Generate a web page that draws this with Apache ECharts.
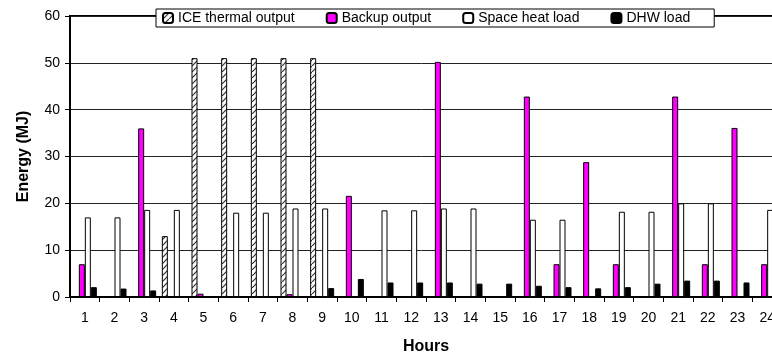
<!DOCTYPE html>
<html>
<head>
<meta charset="utf-8">
<script src="https://cdn.jsdelivr.net/npm/echarts@6/dist/echarts.min.js"></script>
<style>
  html, body { margin: 0; padding: 0; background: #fff; }
  #chart { width: 772px; height: 356px; }
</style>
</head>
<body>
<div id="chart"></div>
<script>
const hours = ['1', '2', '3', '4', '5', '6', '7', '8', '9', '10', '11', '12',
  '13', '14', '15', '16', '17', '18', '19', '20', '21', '22', '23', '24']
const iceOutput = [0, 0, 0, 13, 51, 51, 51, 51, 51, 0, 0, 0, 0, 0, 0, 0, 0, 0, 0, 0, 0, 0, 0, 0]
const backupOutput = [7, 0, 36, 0, 0.7, 0, 0, 0.6, 0, 21.6, 0, 0, 50.2, 0, 0, 42.8, 7, 28.8, 7, 0, 42.8, 7, 36.1, 7]
const spaceHeat = [17, 17, 18.6, 18.6, 0, 18, 18, 18.9, 18.9, 0, 18.5, 18.5, 18.9, 18.9, 0, 16.5, 16.5, 0, 18.2, 18.2, 20, 20, 0, 18.6]
const dhwLoad = [2.1, 1.8, 1.4, 0, 0, 0, 0, 0, 1.9, 3.85, 3.1, 3.1, 3.1, 2.85, 2.85, 2.4, 2.1, 1.85, 2.1, 2.85, 3.5, 3.5, 3.1, 2.5]

// hatch pattern for ICE bars
function hatch() {
  const c = document.createElement('canvas')
  c.width = 6
  c.height = 6
  const ctx = c.getContext('2d')
  ctx.fillStyle = '#fff'
  ctx.fillRect(0, 0, 6, 6)
  ctx.strokeStyle = '#333'
  ctx.lineWidth = 1.2
  ctx.beginPath()
  ctx.moveTo(-1, 7)
  ctx.lineTo(7, -1)
  ctx.stroke()
  return c
}

const font = 'Liberation Sans, Arial, sans-serif'

function bar(name, data, color) {
  return {
    name,
    data,
    type: 'bar',
    barWidth: 6,
    barGap: '0%',
    itemStyle: {
      color,
      borderColor: '#000',
      borderWidth: 1
    },
    emphasis: { disabled: true }
  }
}

const chart = echarts.init(document.getElementById('chart'))
chart.setOption({
  animation: false,
  backgroundColor: '#fff',
  grid: {
    left: 70,
    top: 16,
    width: 712,
    height: 281,
    outerBoundsMode: 'none',
    containLabel: false,
    show: true,
    borderColor: '#000',
    borderWidth: 2,
    backgroundColor: '#fff'
  },
  legend: {
    left: 156,
    top: 9,
    padding: [2, 24, 2, 6],
    itemGap: 31,
    itemWidth: 10,
    itemHeight: 10,
    backgroundColor: '#fff',
    borderColor: '#000',
    borderWidth: 1,
    textStyle: { fontFamily: font, fontSize: 14, color: '#000' },
    data: ['ICE thermal output', 'Backup output', 'Space heat load', 'DHW load']
  },
  xAxis: {
    type: 'category',
    data: hours,
    name: 'Hours',
    nameLocation: 'middle',
    nameGap: 42,
    nameTextStyle: { fontFamily: font, fontSize: 16, fontWeight: 'bold', color: '#000' },
    axisLine: { lineStyle: { color: '#000', width: 1.5 } },
    axisTick: { show: true, length: 5, lineStyle: { color: '#000' } },
    axisLabel: { fontFamily: font, fontSize: 14, color: '#000', margin: 14 },
    splitLine: { show: false }
  },
  yAxis: {
    type: 'value',
    min: 0,
    max: 60,
    interval: 10,
    name: 'Energy (MJ)',
    nameLocation: 'middle',
    nameGap: 38,
    nameTextStyle: { fontFamily: font, fontSize: 16, fontWeight: 'bold', color: '#000' },
    axisLine: { show: true, lineStyle: { color: '#000', width: 1.5 } },
    axisTick: { show: true, length: 5, lineStyle: { color: '#000' } },
    axisLabel: { fontFamily: font, fontSize: 14, color: '#000', margin: 10 },
    splitLine: { lineStyle: { color: '#222', width: 1 } }
  },
  series: [
    bar('ICE thermal output', iceOutput, { image: hatch(), repeat: 'repeat' }),
    bar('Backup output', backupOutput, '#ff00ff'),
    bar('Space heat load', spaceHeat, '#fff'),
    bar('DHW load', dhwLoad, '#000')
  ]
})
</script>
</body>
</html>
